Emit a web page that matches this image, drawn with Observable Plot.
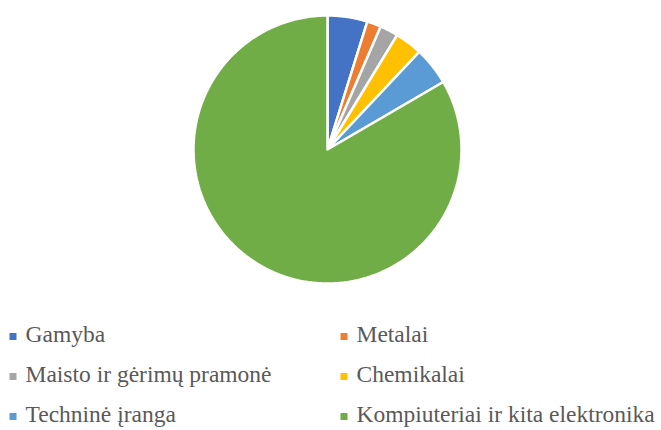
<!DOCTYPE html>
<html>
<head>
<meta charset="utf-8">
<script src="https://cdn.jsdelivr.net/npm/d3@7"></script>
<script src="https://cdn.jsdelivr.net/npm/@observablehq/plot@0.6"></script>
<style>
  body { margin: 0; background: #fff; }
  #chart { width: 661px; }
  #chart svg { display: block; }
</style>
</head>
<body>
<div id="chart"></div>
<script>
const categories = ["Gamyba", "Metalai", "Maisto ir gėrimų pramonė", "Chemikalai", "Techninė įranga", "Kompiuteriai ir kita elektronika"];
const values = [4.8, 1.7, 2.2, 3.3, 4.6, 83.4];
const colors = ["#4472C4", "#ED7D31", "#A5A5A5", "#FFC000", "#5B9BD5", "#70AD47"];

const arcs = d3.pie().sort(null).value(d => d)(values);
const pts = [];
arcs.forEach((a, i) => {
  const n = Math.max(4, Math.ceil((a.endAngle - a.startAngle) / 0.01));
  pts.push({cat: categories[i], x: 0, y: 0});
  for (let k = 0; k <= n; k++) {
    const t = a.startAngle + (a.endAngle - a.startAngle) * k / n;
    pts.push({cat: categories[i], x: Math.sin(t), y: Math.cos(t)});
  }
  pts.push({cat: categories[i], x: 0, y: 0});
});

const cx = 327, cy = 149, r = 134;
const plot = Plot.plot({
  width: 661, height: 298,
  margin: 0,
  x: {domain: [-1, 1], range: [cx - r, cx + r], axis: null},
  y: {domain: [-1, 1], range: [cy + r, cy - r], axis: null},
  color: {domain: categories, range: colors},
  marks: [
    Plot.line(pts, {x: "x", y: "y", z: "cat", fill: "cat", stroke: "white", strokeWidth: 2.5, strokeLinejoin: "miter", curve: "linear"})
  ]
});

const legendData = categories.map((c, i) => ({cat: c, col: i % 2, row: Math.floor(i / 2)}));
const legend = Plot.plot({
  width: 661, height: 132,
  margin: 0,
  x: {domain: [0, 1], range: [12.5, 343.5], axis: null},
  y: {type: "point", domain: [0, 1, 2], range: [43, 123], padding: 0, axis: null},
  color: {domain: categories, range: colors},
  marks: [
    Plot.dot(legendData, {x: "col", y: "row", dy: -5, symbol: "square", r: 3.95, fill: "cat", stroke: null}),
    Plot.text(legendData, {x: "col", y: "row", text: "cat", dx: 12.5, textAnchor: "start", lineAnchor: "bottom", fontSize: 23.5, fontFamily: "Liberation Serif", fill: "#595959"})
  ]
});
const chart = document.getElementById("chart");
chart.appendChild(plot);
chart.appendChild(legend);
</script>
</body>
</html>
